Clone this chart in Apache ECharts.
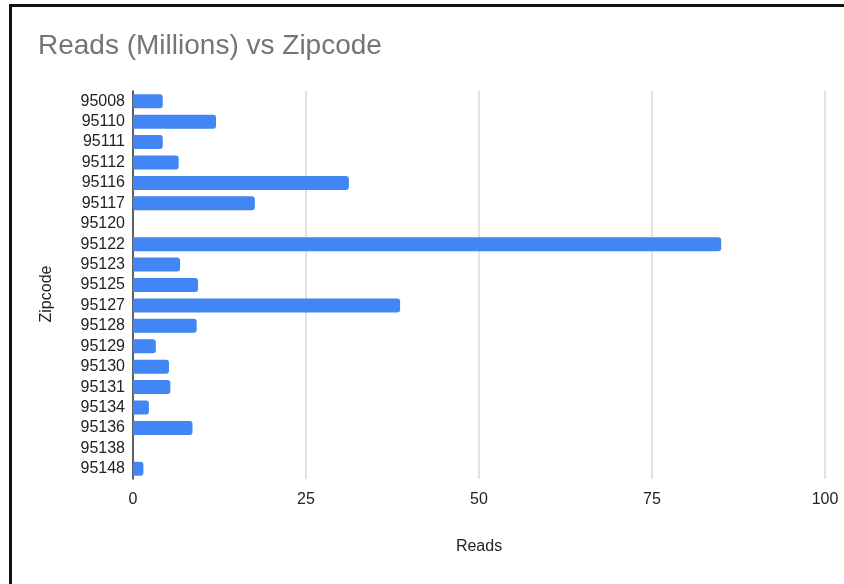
<!DOCTYPE html>
<html>
<head>
<meta charset="utf-8">
<script src="https://cdn.jsdelivr.net/npm/echarts@6/dist/echarts.min.js"></script>
<style>
html,body{margin:0;padding:0;background:#fff;overflow:hidden;}
#chart{position:absolute;left:0;top:0;width:844px;height:584px;}
#frame{position:absolute;left:9px;top:4px;width:850px;height:600px;border-left:3px solid #111;border-top:3px solid #111;pointer-events:none;}
</style>
</head>
<body>
<div id="chart"></div>
<div id="frame"></div>
<script>
const titleText = "Reads (Millions) vs Zipcode";
const xAxisName = "Reads";
const yAxisName = "Zipcode";
const zipcodes = ["95008","95110","95111","95112","95116","95117","95120","95122","95123","95125","95127","95128","95129","95130","95131","95134","95136","95138","95148"];
const reads = [4.3, 12.0, 4.3, 6.6, 31.2, 17.6, 0, 85.0, 6.8, 9.4, 38.6, 9.2, 3.3, 5.2, 5.4, 2.3, 8.6, 0, 1.5];
const xTicks = [0, 25, 50, 75, 100];

const chart = echarts.init(document.getElementById('chart'), null, {renderer:'canvas'});
chart.setOption({
  animation:false,
  backgroundColor:'#ffffff',
  textStyle:{fontFamily:'Arial, "Liberation Sans", sans-serif'},
  title:{
    text:titleText,
    left:33, top:27,
    textStyle:{fontSize:28, fontWeight:'normal', color:'#757575', fontFamily:'Arial, "Liberation Sans", sans-serif'}
  },
  grid:{left:133, right:19, top:91, bottom:105, containLabel:false},
  xAxis:{
    type:'value',
    min:xTicks[0], max:xTicks[xTicks.length-1], interval:xTicks[1]-xTicks[0],
    name:xAxisName, nameLocation:'middle', nameGap:60,
    nameTextStyle:{fontSize:16, color:'#222'},
    axisLine:{show:false},
    axisTick:{show:false},
    axisLabel:{fontSize:16, color:'#222', margin:13},
    splitLine:{show:true, lineStyle:{color:'#d9d9d9', width:1.5}}
  },
  yAxis:{
    type:'category',
    data:zipcodes,
    inverse:true,
    name:yAxisName, nameLocation:'middle', nameGap:78,
    nameTextStyle:{fontSize:16, color:'#222', padding:[0,18,0,0]},
    axisLine:{show:true, lineStyle:{color:'#333', width:1.5}},
    axisTick:{show:false},
    axisLabel:{fontSize:16, color:'#222', margin:8, interval:0},
    splitLine:{show:false}
  },
  series:[{
    type:'bar',
    data:reads,
    barWidth:14,
    itemStyle:{color:'#4285F4', borderRadius:[0,3,3,0]}
  }]
});
</script>
</body>
</html>
